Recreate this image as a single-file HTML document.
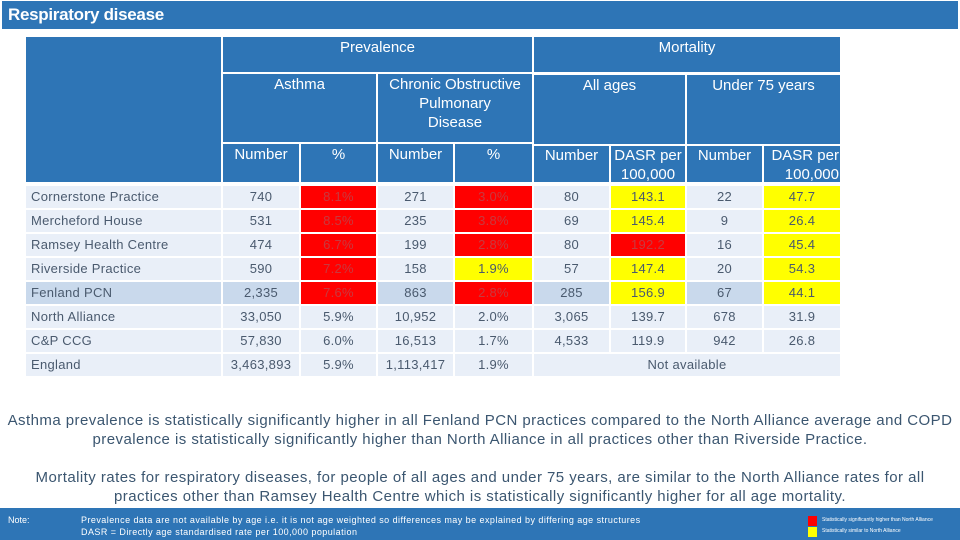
<!DOCTYPE html>
<html><head><meta charset="utf-8">
<style>
*{margin:0;padding:0;box-sizing:border-box}
body{width:960px;height:540px;background:#fff;position:relative;overflow:hidden;font-family:"Liberation Sans",sans-serif}
.a{position:absolute}
.h{background:#2E75B6;color:#fff;font-size:15px;text-align:center;line-height:19px}
.c{position:absolute;font-size:13px;color:#4A5A6E;text-align:center;line-height:22px;height:22px;letter-spacing:0.3px}
.p{position:absolute;left:0;width:960px;text-align:center;font-size:15px;color:#3B5670;line-height:19px;letter-spacing:0.45px}
</style></head><body>
<div class="a" style="left:2px;top:1px;width:956px;height:28px;background:#2E75B6;color:#fff;font-weight:bold;font-size:17px;line-height:28px;padding-left:6px;letter-spacing:-0.3px">Respiratory disease</div>

<div class="a h" style="left:26px;top:37px;width:195px;height:145px"></div>
<div class="a h" style="left:223px;top:37px;width:309px;height:35px;padding-top:1px">Prevalence</div>
<div class="a h" style="left:534px;top:37px;width:306px;height:35px;padding-top:1px">Mortality</div>
<div class="a h" style="left:223px;top:74px;width:153px;height:68px;padding-top:1px">Asthma</div>
<div class="a h" style="left:378px;top:74px;width:154px;height:68px;padding-top:1px">Chronic Obstructive<br>Pulmonary<br>Disease</div>
<div class="a h" style="left:534px;top:75px;width:151px;height:69px;padding-top:1px">All ages</div>
<div class="a h" style="left:687px;top:75px;width:153px;height:69px;padding-top:1px">Under 75 years</div>
<div class="a h" style="left:223px;top:144px;width:76px;height:38px;padding-top:1px">Number</div>
<div class="a h" style="left:301px;top:144px;width:75px;height:38px;padding-top:1px">%</div>
<div class="a h" style="left:378px;top:144px;width:75px;height:38px;padding-top:1px">Number</div>
<div class="a h" style="left:455px;top:144px;width:77px;height:38px;padding-top:1px">%</div>
<div class="a h" style="left:534px;top:146px;width:75px;height:36px;padding-top:0">Number</div>
<div class="a h" style="left:611px;top:146px;width:74px;height:36px;padding-top:0">DASR per 100,000</div>
<div class="a h" style="left:687px;top:146px;width:75px;height:36px;padding-top:0">Number</div>
<div class="a h" style="left:764px;top:146px;width:76px;height:36px;padding-top:0;text-align:right;padding-right:1px">DASR per 100,000</div>

<div id="tbl"></div>

<div class="p" style="top:411px">Asthma prevalence is statistically significantly higher in all Fenland PCN practices compared to the North Alliance average and COPD<br>prevalence is statistically significantly higher than North Alliance in all practices other than Riverside Practice.</div>
<div class="p" style="top:468px">Mortality rates for respiratory diseases, for people of all ages and under 75 years, are similar to the North Alliance rates for all<br>practices other than Ramsey Health Centre which is statistically significantly higher for all age mortality.</div>

<div class="a" style="left:0;top:508px;width:960px;height:32px;background:#2E75B6;color:#fff;font-size:9px;line-height:12px">
<div class="a" style="left:8px;top:6px">Note:</div>
<div class="a" style="left:81px;top:6px;letter-spacing:0.45px">Prevalence data are not available by age i.e. it is not age weighted so differences may be explained by differing age structures<br>DASR = Directly age standardised rate per 100,000 population</div>
<div class="a" style="left:808px;top:8px;width:9px;height:10px;background:#f00"></div>
<div class="a" style="left:808px;top:19px;width:9px;height:10px;background:#ff0"></div>
<div class="a" style="left:822px;top:8px;font-size:5px;line-height:9px">Statistically significantly higher than North Alliance</div>
<div class="a" style="left:822px;top:19px;font-size:5px;line-height:9px">Statistically similar to North Alliance</div>
</div>

<script>
const rowNames=["Cornerstone Practice","Mercheford House","Ramsey Health Centre","Riverside Practice","Fenland PCN","North Alliance","C&P CCG","England"];
const asthmaNum=["740","531","474","590","2,335","33,050","57,830","3,463,893"];
const asthmaPct=["8.1%","8.5%","6.7%","7.2%","7.6%","5.9%","6.0%","5.9%"];
const copdNum=["271","235","199","158","863","10,952","16,513","1,113,417"];
const copdPct=["3.0%","3.8%","2.8%","1.9%","2.8%","2.0%","1.7%","1.9%"];
const allNum=["80","69","80","57","285","3,065","4,533",""];
const allDasr=["143.1","145.4","192.2","147.4","156.9","139.7","119.9",""];
const u75Num=["22","9","16","20","67","678","942",""];
const u75Dasr=["47.7","26.4","45.4","54.3","44.1","31.9","26.8",""];
const flags={asthmaPct:["r","r","r","r","r","","",""],copdPct:["r","r","r","y","r","","",""],allDasr:["y","y","r","y","y","","",""],u75Dasr:["y","y","y","y","y","","",""]};
const cols=[[223,76],[301,75],[378,75],[455,77],[534,75],[611,74],[687,75],[764,76]];
const series=[asthmaNum,asthmaPct,copdNum,copdPct,allNum,allDasr,u75Num,u75Dasr];
const keys=["asthma-number","asthma-pct","copd-number","copd-pct","all-ages-number","all-ages-dasr","u75-number","u75-dasr"];
const fk=[null,"asthmaPct",null,"copdPct",null,"allDasr",null,"u75Dasr"];
const tbl=document.getElementById('tbl');
rowNames.forEach((n,i)=>{
  const top=186+i*24;
  const bg=i===4?"#C9D9EC":"#E9EFF8";
  const lab=document.createElement('div');
  lab.className='c';
  
  
  lab.style.cssText=`left:26px;top:${top}px;width:195px;background:${bg};text-align:left;padding-left:5px`;
  lab.textContent=n;tbl.appendChild(lab);
  if(i===7){
    const na=document.createElement('div');na.className='c';
    
    
    na.style.cssText=`left:534px;top:${top}px;width:306px;background:${bg}`;
    na.textContent="Not available";tbl.appendChild(na);
  }
  series.forEach((s,j)=>{
    if(i===7&&j>=4)return;
    const d=document.createElement('div');d.className='c';
    
    
    const f=fk[j]?flags[fk[j]][i]:"";
    const b=f==="r"?"#FF0000":f==="y"?"#FFFF00":bg;
    const col=f==="r"?"#C8393F":"#4A5A6E";
    d.style.cssText=`left:${cols[j][0]}px;top:${top}px;width:${cols[j][1]}px;background:${b};color:${col}`;
    d.textContent=s[i];tbl.appendChild(d);
  });
});
</script>
</body></html>
